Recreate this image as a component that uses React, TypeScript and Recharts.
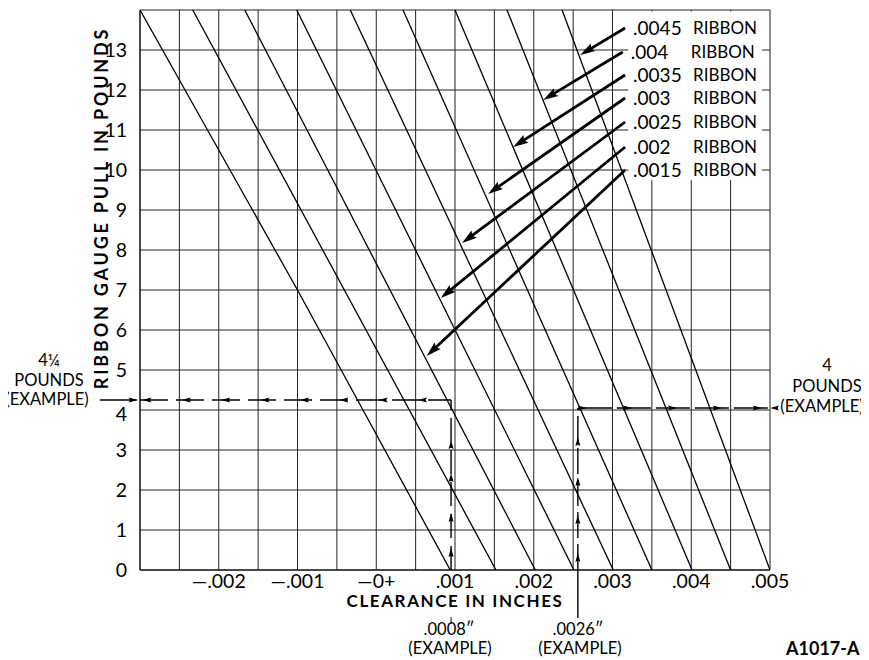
import React from "react";
import {
  ComposedChart,
  Line,
  XAxis,
  YAxis,
  CartesianGrid,
  ReferenceLine,
  ReferenceDot,
  ReferenceArea,
  Customized,
} from "recharts";

const FONT = "Lato, 'Open Sans', 'DejaVu Sans', sans-serif";

// ---------- axes ----------
const xGridTicks = [
  -0.003, -0.0025, -0.002, -0.0015, -0.001, -0.0005, 0, 0.0005, 0.001, 0.0015,
  0.002, 0.0025, 0.003, 0.0035, 0.004, 0.0045, 0.005,
];
const xLabelValues = [-0.002, -0.001, 0, 0.001, 0.002, 0.003, 0.004, 0.005];
const xLabelTexts = ["—.002", "—.001", "—0+", ".001", ".002", ".003", ".004", ".005"];
const yTicks = [0, 1, 2, 3, 4, 5, 6, 7, 8, 9, 10, 11, 12, 13, 14];
const yLabelTexts = ["0", "1", "2", "3", "4", "5", "6", "7", "8", "9", "10", "11", "12", "13"];

// ---------- gauge lines (clearance at 14 lb and at 0 lb) ----------
const lineTopX = [-0.003, -0.00233, -0.00167, -0.00101, -0.00033, 0.00034, 0.001, 0.00166, 0.00236];
const lineBottomX = [0.00094, 0.00152, 0.00202, 0.00251, 0.00301, 0.0035, 0.00401, 0.0045, 0.005];
const firstLineMid = { x: -0.001, y: 7 };

// ---------- ribbon labels / pointer arrows ----------
const ribbonNames = [".0045", ".004", ".0035", ".003", ".0025", ".002", ".0015"];
const arrowStartX = [0.00316, 0.00313, 0.00316, 0.00316, 0.00316, 0.00316, 0.00316];
const arrowStartY = [13.55, 12.95, 12.375, 11.8, 11.2, 10.575, 10.0];
const arrowTipX = [0.00259, 0.00212, 0.00174, 0.00142, 0.00109, 0.00082, 0.00064];
const arrowTipY = [12.875, 11.75, 10.575, 9.4, 8.175, 6.8, 5.35];

// ---------- examples ----------
const leftExampleX = 0.00095;
const leftExampleY = 4.25;
const rightExampleX = 0.00256;
const rightExampleY = 4.05;
const leftHArrowX = [-0.00297, -0.00247, -0.00197, -0.00147, -0.00097, -0.00047, 0.00003, 0.00053];
const leftVArrowY = [3.25, 2.425, 1.425, 0.55];
const rightVArrowY = [3.325, 2.325, 1.375, 0.425];
const rightHArrowX = [0.002676, 0.003248, 0.003819, 0.00439, 0.004898];

const X_MIN = -0.003;
const X_MAX = 0.005;
const Y_MIN = 0;
const Y_MAX = 14;
const W = 869;
const H = 660;
const MARGIN = { top: 10, right: 99, bottom: 60, left: 100 };
const Y_AXIS_W = 40;
const X_AXIS_H = 30;
const PLOT_W = W - MARGIN.left - MARGIN.right - Y_AXIS_W;
const PLOT_H = H - MARGIN.top - MARGIN.bottom - X_AXIS_H;
const KX = PLOT_W / (X_MAX - X_MIN);
const KY = PLOT_H / (Y_MAX - Y_MIN);

const gaugeLines = lineTopX.map((tx, i) => {
  const pts = [{ x: tx, y: 14 }];
  if (i === 0) pts.push(firstLineMid);
  pts.push({ x: lineBottomX[i], y: 0 });
  return pts;
});

const Arrowhead = ({ cx, cy, angle, len, wid }: any) => {
  if (cx == null || cy == null) return <g />;
  return (
    <polygon
      points={`0,0 ${-len},${-wid / 2} ${-len * 0.85},0 ${-len},${wid / 2}`}
      transform={`translate(${cx},${cy}) rotate(${angle})`}
      fill="#000"
      stroke="none"
    />
  );
};

const XTick = (p: any) => {
  const v = p.payload.value;
  const i = xLabelValues.findIndex((t) => Math.abs(t - v) < 1e-9);
  if (i < 0) return <g />;
  return (
    <text x={p.x} y={p.y} dy={14} textAnchor="middle" fontSize={19.5} fontFamily={FONT} fill="#000">
      {xLabelTexts[i]}
    </text>
  );
};

const YTick = (p: any) => {
  const v = p.payload.value;
  if (v >= 14) return <g />;
  return (
    <text
      x={p.x}
      y={p.y + (v === 4 ? 4 : 0)}
      dy="0.36em"
      textAnchor="end"
      fontSize={19.5}
      fontFamily={FONT}
      fill="#000"
    >
      {yLabelTexts[v]}
    </text>
  );
};

const Texts = () => {
  const t = { fontFamily: FONT, fill: "#000" } as any;
  return (
    <g>
      <text
        x={101}
        y={208}
        transform="rotate(-90 101 208)"
        textAnchor="middle"
        dominantBaseline="central"
        fontSize={18}
        fontWeight={700}
        letterSpacing={2.8}
        {...t}
      >
        RIBBON GAUGE PULL IN POUNDS
      </text>
      <text x={455} y={607} textAnchor="middle" fontSize={17} fontWeight={700} letterSpacing={1.6} {...t}>
        CLEARANCE IN INCHES
      </text>
      <text x={49} y={366} textAnchor="middle" fontSize={16.5} {...t}>4¼</text>
      <text x={49} y={386} textAnchor="middle" fontSize={16.5} {...t}>POUNDS</text>
      <text x={47} y={405} textAnchor="middle" fontSize={16.5} {...t}>(EXAMPLE)</text>
      <text x={827} y={371} textAnchor="middle" fontSize={16.5} {...t}>4</text>
      <text x={827} y={392} textAnchor="middle" fontSize={16.5} {...t}>POUNDS</text>
      <text x={822} y={412} textAnchor="middle" fontSize={16.5} {...t}>(EXAMPLE)</text>
      <text x={449} y={635} textAnchor="middle" fontSize={16.5} {...t}>.0008″</text>
      <text x={450} y={654} textAnchor="middle" fontSize={16.5} {...t}>(EXAMPLE)</text>
      <text x={578} y={635} textAnchor="middle" fontSize={16.5} {...t}>.0026″</text>
      <text x={580} y={654} textAnchor="middle" fontSize={16.5} {...t}>(EXAMPLE)</text>
      <text x={786} y={655} fontSize={18} fontWeight={700} {...t}>A1017-A</text>
    </g>
  );
};

export default function App() {
  const arrows = ribbonNames.map((name, i) => {
    const dx = (arrowTipX[i] - arrowStartX[i]) * KX;
    const dy = -(arrowTipY[i] - arrowStartY[i]) * KY;
    const lenPx = Math.sqrt(dx * dx + dy * dy);
    const f = 8 / lenPx;
    const endX = arrowTipX[i] - (arrowTipX[i] - arrowStartX[i]) * f;
    const endY = arrowTipY[i] - (arrowTipY[i] - arrowStartY[i]) * f;
    const angle = (Math.atan2(dy, dx) * 180) / Math.PI;
    return { name, endX, endY, angle };
  });

  return (
    <div style={{ width: W, height: H, margin: "-8px 0 0 -8px" }}>
      <ComposedChart width={W} height={H} margin={MARGIN}>
        <CartesianGrid stroke="#222" strokeWidth={1} />
        <XAxis
          type="number"
          dataKey="x"
          domain={[X_MIN, X_MAX]}
          ticks={xGridTicks}
          interval={0}
          tick={<XTick />}
          tickLine={false}
          tickSize={0}
          tickMargin={4}
          axisLine={{ stroke: "#000" }}
          height={X_AXIS_H}
          allowDataOverflow
        />
        <YAxis
          type="number"
          dataKey="y"
          domain={[Y_MIN, Y_MAX]}
          ticks={yTicks}
          interval={0}
          tick={<YTick />}
          tickLine={false}
          tickSize={0}
          tickMargin={13}
          axisLine={{ stroke: "#000" }}
          width={Y_AXIS_W}
          allowDataOverflow
        />
        <ReferenceArea x1={0.0032} x2={0.0049} y1={9.75} y2={13.96} fill="#fff" fillOpacity={1} stroke="none" />

        {gaugeLines.map((d, i) => (
          <Line
            key={"g" + i}
            data={d}
            dataKey="y"
            type="linear"
            stroke="#000"
            strokeWidth={1.3}
            dot={false}
            activeDot={false}
            isAnimationActive={false}
          />
        ))}

        {/* ribbon pointer arrows */}
        {arrows.map((a, i) => (
          <ReferenceLine
            key={"a" + i}
            segment={[
              { x: arrowStartX[i], y: arrowStartY[i] },
              { x: a.endX, y: a.endY },
            ]}
            stroke="#000"
            strokeWidth={2.8}
            ifOverflow="visible"
          />
        ))}
        {arrows.map((a, i) => (
          <ReferenceDot
            key={"ah" + i}
            x={arrowTipX[i]}
            y={arrowTipY[i]}
            r={0}
            ifOverflow="visible"
            shape={(p: any) => <Arrowhead cx={p.cx} cy={p.cy} angle={a.angle} len={15} wid={9} />}
          />
        ))}
        {ribbonNames.map((n, i) => (
          <ReferenceDot
            key={"lbl" + i}
            x={arrowStartX[i]}
            y={arrowStartY[i]}
            r={0}
            ifOverflow="visible"
            shape={(p: any) => (
              <g>
                <text x={p.cx + 8} y={p.cy} dy="0.36em" fontSize={19} fontFamily={FONT} fill="#000">
                  {n}
                </text>
                <text x={p.cx + 68} y={p.cy} dy="0.36em" fontSize={17} fontFamily={FONT} fill="#000">
                  RIBBON
                </text>
              </g>
            )}
          />
        ))}

        {/* left example */}
        <ReferenceLine
          segment={[
            { x: X_MIN, y: leftExampleY },
            { x: leftExampleX, y: leftExampleY },
          ]}
          stroke="#000"
          strokeWidth={1.4}
          strokeDasharray="28 8"
          ifOverflow="visible"
        />
        <ReferenceLine
          segment={[
            { x: leftExampleX, y: 0 },
            { x: leftExampleX, y: leftExampleY },
          ]}
          stroke="#000"
          strokeWidth={1.4}
          strokeDasharray="24 8"
          ifOverflow="visible"
        />
        <ReferenceLine
          segment={[
            { x: -0.00351, y: leftExampleY },
            { x: -0.00304, y: leftExampleY },
          ]}
          stroke="#000"
          strokeWidth={1.4}
          ifOverflow="visible"
        />
        <ReferenceDot
          x={-0.00303}
          y={leftExampleY}
          r={0}
          ifOverflow="visible"
          shape={(p: any) => <Arrowhead cx={p.cx} cy={p.cy} angle={0} len={9} wid={5} />}
        />
        {leftHArrowX.map((x, i) => (
          <ReferenceDot
            key={"lh" + i}
            x={x}
            y={leftExampleY}
            r={0}
            ifOverflow="visible"
            shape={(p: any) => <Arrowhead cx={p.cx} cy={p.cy} angle={180} len={9} wid={5} />}
          />
        ))}
        {leftVArrowY.map((y, i) => (
          <ReferenceDot
            key={"lv" + i}
            x={leftExampleX}
            y={y}
            r={0}
            ifOverflow="visible"
            shape={(p: any) => <Arrowhead cx={p.cx} cy={p.cy} angle={-90} len={9} wid={5} />}
          />
        ))}
        <ReferenceLine
          segment={[
            { x: leftExampleX, y: -1.18 },
            { x: leftExampleX, y: -1.35 },
          ]}
          stroke="#000"
          strokeWidth={1}
          ifOverflow="visible"
        />

        {/* right example */}
        <ReferenceLine
          segment={[
            { x: rightExampleX, y: -1.2 },
            { x: rightExampleX, y: 0 },
          ]}
          stroke="#000"
          strokeWidth={1.4}
          ifOverflow="visible"
        />
        <ReferenceLine
          segment={[
            { x: rightExampleX, y: 0 },
            { x: rightExampleX, y: rightExampleY },
          ]}
          stroke="#000"
          strokeWidth={1.4}
          strokeDasharray="26 6"
          ifOverflow="visible"
        />
        <ReferenceLine
          segment={[
            { x: rightExampleX, y: rightExampleY },
            { x: X_MAX, y: rightExampleY },
          ]}
          stroke="#000"
          strokeWidth={1.4}
          strokeDasharray="34 5"
          ifOverflow="visible"
        />
        {rightVArrowY.map((y, i) => (
          <ReferenceDot
            key={"rv" + i}
            x={rightExampleX}
            y={y}
            r={0}
            ifOverflow="visible"
            shape={(p: any) => <Arrowhead cx={p.cx} cy={p.cy} angle={-90} len={9} wid={5} />}
          />
        ))}
        {rightHArrowX.map((x, i) => (
          <ReferenceDot
            key={"rh" + i}
            x={x}
            y={rightExampleY}
            r={0}
            ifOverflow="visible"
            shape={(p: any) => <Arrowhead cx={p.cx} cy={p.cy} angle={0} len={9} wid={5} />}
          />
        ))}
        <ReferenceLine
          segment={[
            { x: 0.00503, y: rightExampleY },
            { x: 0.00509, y: rightExampleY },
          ]}
          stroke="#000"
          strokeWidth={1.4}
          ifOverflow="visible"
        />
        <ReferenceDot
          x={0.00501}
          y={rightExampleY}
          r={0}
          ifOverflow="visible"
          shape={(p: any) => <Arrowhead cx={p.cx} cy={p.cy} angle={180} len={8} wid={5} />}
        />

        <Customized component={<Texts />} />
      </ComposedChart>
    </div>
  );
}
